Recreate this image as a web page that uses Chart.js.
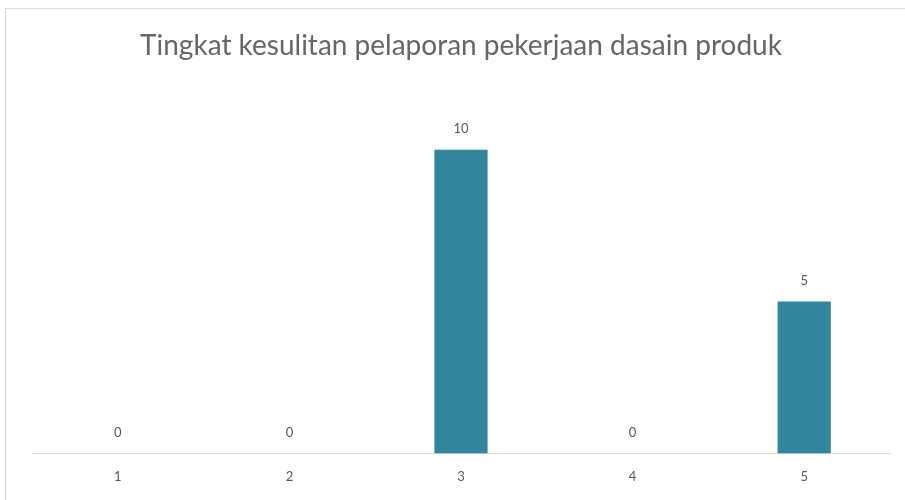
<!DOCTYPE html>
<html>
<head>
<meta charset="utf-8">
<script src="https://cdn.jsdelivr.net/npm/chart.js@4"></script>
<style>
    html, body { margin: 0; padding: 0; background: #fff; }
    .frame { position: absolute; left: 5px; top: 8px; width: 910px; height: 500px; border: 1px solid #d9d9d9; box-sizing: border-box; }
    .chart-container { position: absolute; left: 0; top: 0; width: 905px; height: 500px; }
</style>
</head>
<body>
<div class="frame"></div>
<div class="chart-container"><canvas id="barChart"></canvas></div>
<script>
const categories = ['1', '2', '3', '4', '5'];
const values = [0, 0, 10, 0, 5];
const chartTitle = 'Tingkat kesulitan pelaporan pekerjaan dasain produk';

const textColor = '#595959';
const fontFamily = 'Lato, "Open Sans", sans-serif';

// draws the value above each bar
const valueLabels = {
    id: 'valueLabels',
    afterDatasetsDraw(chart) {
        const ctx = chart.ctx;
        const meta = chart.getDatasetMeta(0);
        ctx.save();
        ctx.fillStyle = textColor;
        ctx.font = '13px ' + fontFamily;
        ctx.textAlign = 'center';
        ctx.textBaseline = 'middle';
        meta.data.forEach((bar, i) => {
            ctx.fillText(String(values[i]), bar.x, bar.y - 21);
        });
        ctx.restore();
    }
};

new Chart(document.getElementById('barChart'), {
    type: 'bar',
    data: {
        labels: categories,
        datasets: [{
            data: values,
            backgroundColor: '#31859C',
            categoryPercentage: 1,
            barPercentage: 0.31
        }]
    },
    options: {
        responsive: true,
        maintainAspectRatio: false,
        animation: false,
        layout: {
            padding: { left: 32, right: 15, top: 19, bottom: 7 }
        },
        scales: {
            x: {
                grid: { display: false },
                border: { color: '#d9d9d9', width: 1 },
                ticks: { color: textColor, font: { family: fontFamily, size: 13 }, padding: 8 }
            },
            y: {
                display: false,
                min: 0,
                max: 12
            }
        },
        plugins: {
            legend: { display: false },
            tooltip: { enabled: false },
            title: {
                display: true,
                text: chartTitle,
                color: '#666666',
                font: { family: fontFamily, size: 28, weight: 'normal' },
                padding: { top: 10, bottom: 26.4 }
            }
        }
    },
    plugins: [valueLabels]
});
</script>
</body>
</html>
